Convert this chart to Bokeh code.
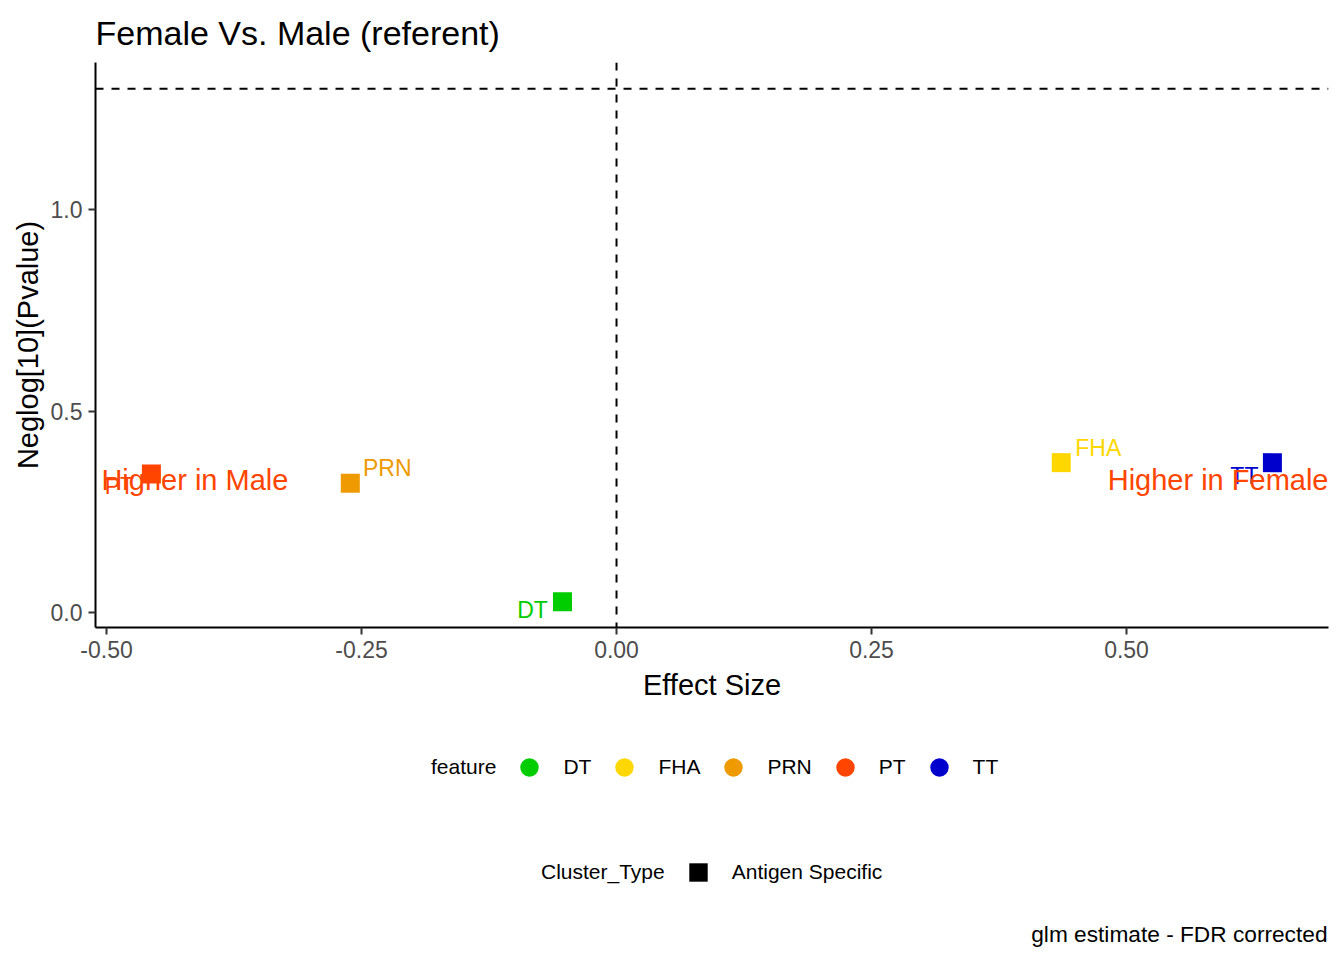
import math
from bokeh.plotting import figure
from bokeh.layouts import column
from bokeh.models import (Range1d, Span, Legend, LegendItem, FixedTicker,
                          NumeralTickFormatter, Label, ColumnDataSource)
from bokeh.core.properties import value
from bokeh.embed import file_html
from bokeh.resources import INLINE

# ---- data ----
features = ["DT", "FHA", "PRN", "PT", "TT"]
effect_size = [-0.053, 0.436, -0.261, -0.456, 0.643]
neglog10_p = [0.028, 0.373, 0.322, 0.345, 0.373]
cluster_type = ["Antigen Specific"] * 5
feature_colors = ["#00CD00", "#FFD700", "#EE9A00", "#FF4500", "#0000CD"]
x_ticks = [-0.50, -0.25, 0.00, 0.25, 0.50]
y_ticks = [0.0, 0.5, 1.0]
p_threshold = 0.05
annot_text = ["Higher in Male", "Higher in Female"]
annot_x = [-0.505, 0.698]
annot_y = [0.329, 0.329]

# label placement (screen px offsets, style only)
label_dx = [-30, 37, 37, -32, -28]
label_dy = [8, -15, -15, 12, 13]

FONT = "Liberation Sans"
W = 1344
H_MAIN = 710
H_LEG = 250
FRAME_LEFT = 95
FRAME_RIGHT = 1328

src = ColumnDataSource(dict(x=effect_size, y=neglog10_p, feature=features,
                            color=feature_colors, dx=label_dx, dy=label_dy,
                            ctype=cluster_type))

p = figure(width=W, height=H_MAIN, output_backend="svg", toolbar_location=None,
           x_range=Range1d(-0.5108, 0.698), y_range=Range1d(-0.036, 1.366),
           min_border_left=FRAME_LEFT, min_border_right=W - FRAME_RIGHT,
           min_border_top=62, min_border_bottom=H_MAIN - 627)
p.outline_line_color = None
p.xgrid.visible = False
p.ygrid.visible = False
p.background_fill_color = "white"
p.border_fill_color = "white"

p.title.text = "Female Vs. Male (referent)"
p.title.text_font = FONT
p.title.text_font_size = "34px"
p.title.text_font_style = "normal"
p.title.text_color = "black"
p.title.align = "left"
p.title.vertical_align = "top"
p.title.standoff = 18

for ax in (p.xaxis[0], p.yaxis[0]):
    ax.axis_line_width = 2
    ax.axis_line_color = "black"
    ax.major_tick_line_color = "#333333"
    ax.major_tick_line_width = 2
    ax.major_tick_out = 7
    ax.major_tick_in = 0
    ax.minor_tick_line_color = None
    ax.major_label_text_font = FONT
    ax.major_label_text_font_size = "23px"
    ax.major_label_text_color = "#4D4D4D"
    ax.major_label_standoff = 6
    ax.axis_label_text_font = FONT
    ax.axis_label_text_font_size = "29px"
    ax.axis_label_text_font_style = "normal"
    ax.axis_label_text_color = "black"

p.xaxis.ticker = FixedTicker(ticks=x_ticks)
p.xaxis.formatter = NumeralTickFormatter(format="0.00")
p.yaxis.ticker = FixedTicker(ticks=y_ticks)
p.yaxis.formatter = NumeralTickFormatter(format="0.0")
p.xaxis.axis_label = "Effect Size"
p.yaxis.axis_label = "Neglog[10](Pvalue)"
p.xaxis.axis_label_standoff = 8
p.yaxis.axis_label_standoff = 4

# reference lines
p.add_layout(Span(location=0, dimension="height", line_color="black",
                  line_dash="8 8", line_width=2))
p.add_layout(Span(location=-math.log10(p_threshold), dimension="width",
                  line_color="black", line_dash="8 8", line_width=2))

# points
p.scatter(x="x", y="y", source=src, marker="square", size=19,
          fill_color="color", line_color=None)

# point labels
p.text(x="x", y="y", text="feature", source=src, x_offset="dx", y_offset="dy",
       text_color="color", text_font=value(FONT), text_font_size="23px",
       text_align="center", text_baseline="middle")

# annotations
p.text(x=annot_x[:1], y=annot_y[:1], text=annot_text[:1], text_color="#FF4500",
       text_font=value(FONT), text_font_size="29px", text_align="left",
       text_baseline="middle")
p.text(x=annot_x[1:], y=annot_y[1:], text=annot_text[1:], text_color="#FF4500",
       text_font=value(FONT), text_font_size="29px", text_align="right",
       text_baseline="middle")

# ---- legend strip (second figure; its data lies outside its ranges) ----
q = figure(width=W, height=H_LEG, output_backend="svg", toolbar_location=None,
           x_range=Range1d(1000, 1001), y_range=Range1d(1000, 1001),
           x_axis_location=None, y_axis_location=None,
           min_border_left=FRAME_LEFT, min_border_right=W - FRAME_RIGHT,
           min_border_top=0, min_border_bottom=0)
q.outline_line_color = None
q.xgrid.visible = False
q.ygrid.visible = False
q.background_fill_color = "white"
q.border_fill_color = "white"

circ = q.scatter(x="x", y="y", source=src, marker="circle", size=10,
                 fill_color="color", line_color=None)
blk = q.scatter(x="x", y="y", source=src, marker="square", size=10,
                fill_color="black", line_color=None)
blank = q.scatter(x="x", y="y", source=src, marker="circle", size=1,
                  fill_alpha=0, line_alpha=0)

def style_legend(lg, loc):
    lg.orientation = "horizontal"
    lg.location = loc
    lg.glyph_width = 46
    lg.glyph_height = 46
    lg.label_standoff = 11
    lg.spacing = 10
    lg.padding = 0
    lg.margin = 0
    lg.border_line_color = None
    lg.background_fill_alpha = 0
    lg.label_text_font = FONT
    lg.label_text_font_size = "21px"
    lg.label_text_color = "black"

items1 = [LegendItem(label="feature", renderers=[blank], index=0)]
items1 += [LegendItem(label=f, renderers=[circ], index=i)
           for i, f in enumerate(features)]
leg1 = Legend(items=items1)
style_legend(leg1, (374 - FRAME_LEFT, 170))
q.add_layout(leg1)

leg2 = Legend(items=[LegendItem(label="Cluster_Type", renderers=[blank], index=0),
                     LegendItem(label=cluster_type[0], renderers=[blk], index=0)])
style_legend(leg2, (484 - FRAME_LEFT, 65))
q.add_layout(leg2)

cap = Label(x=FRAME_RIGHT - FRAME_LEFT - 1, y=27, x_units="screen", y_units="screen",
            text="glm estimate - FDR corrected", text_align="right",
            text_baseline="middle", text_font=FONT, text_font_size="22.7px",
            text_color="black")
q.add_layout(cap)

layout = column(p, q, spacing=0)
open("out.html", "w").write(file_html(layout, INLINE))
